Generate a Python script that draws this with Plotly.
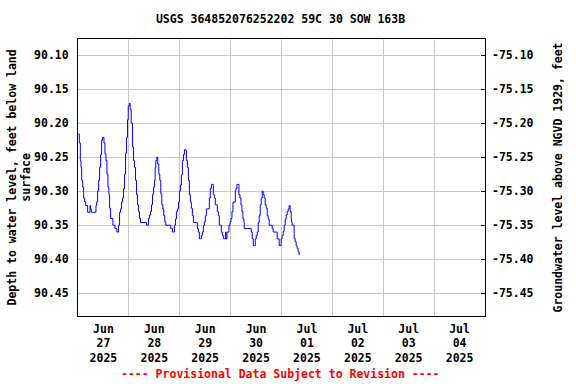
import pandas as pd
import plotly.graph_objects as go

# Hours after 2025-06-27 00:00 and depth to water (ft below land surface)
hours = [0, 0.31, 0.63, 1.10, 1.41, 1.73, 2.20, 2.67, 3.14, 3.61, 4.55, 5.33, 5.65, 5.96, 6.27, 7.37,
         8.47, 8.78, 9.25, 9.73, 10.20, 10.67, 11.14, 11.61, 11.76, 12.24, 12.71, 13.18, 13.65, 14.12,
         14.59, 14.90, 15.37, 16.47, 16.94, 17.41, 18.35, 18.67, 19.14, 19.61, 20.08, 20.55, 21.02,
         21.49, 21.96, 22.43, 22.90, 23.37, 23.69, 24.16, 24.63, 25.10, 25.73, 26.20, 26.67, 27.14,
         27.61, 28.08, 28.55, 29.02, 29.49, 32.31, 32.78, 33.25, 33.73, 34.20, 34.67, 35.14, 35.61,
         36.08, 36.39, 36.71, 37.18, 37.65, 38.12, 38.59, 39.06, 39.53, 40.00, 40.47, 40.94, 41.41,
         43.76, 44.55, 45.02, 45.49, 45.96, 46.43, 46.90, 47.37, 47.84, 48.31, 48.78, 49.25, 49.73,
         50.20, 50.67, 51.14, 51.61, 52.08, 52.55, 53.02, 53.49, 53.96, 54.43, 56.31, 56.78, 57.25,
         57.73, 58.20, 58.67, 59.14, 59.61, 60.08, 60.55, 61.96, 62.43, 62.90, 63.37, 63.84, 64.31,
         64.78, 65.73, 66.20, 66.67, 67.14, 67.61, 68.08, 68.55, 69.65, 69.80, 70.27, 70.75, 71.22,
         71.69, 72.16, 72.63, 73.10, 74.20, 74.51, 74.98, 75.45, 75.92, 76.39, 76.86, 77.33, 77.80,
         78.27, 78.43, 81.73, 82.20, 82.67, 83.14, 83.61, 84.08, 84.55, 85.02, 85.49, 85.96, 86.43,
         86.90, 87.37, 87.84, 88.31, 88.78, 89.25, 89.73, 90.20, 91.61, 92.08, 93.96, 94.43, 94.90,
         95.37, 95.84, 96.31, 96.78, 97.25, 97.73, 98.20, 98.67, 99.14, 99.61, 100.08, 100.55, 100.71,
         101.02, 101.49, 101.96, 102.43, 102.90, 103.37, 103.84, 104.31]
depth = [90.216, 90.216, 90.229, 90.255, 90.265, 90.284, 90.294, 90.310, 90.316, 90.321, 90.331, 90.331,
         90.321, 90.326, 90.331, 90.331, 90.321, 90.316, 90.300, 90.284, 90.265, 90.246, 90.225, 90.221,
         90.221, 90.229, 90.245, 90.255, 90.275, 90.294, 90.305, 90.325, 90.340, 90.350, 90.350, 90.355,
         90.360, 90.360, 90.350, 90.331, 90.326, 90.316, 90.310, 90.296, 90.275, 90.244, 90.221, 90.195,
         90.175, 90.171, 90.180, 90.200, 90.235, 90.255, 90.265, 90.284, 90.305, 90.320, 90.330, 90.340,
         90.346, 90.350, 90.350, 90.340, 90.335, 90.330, 90.320, 90.305, 90.294, 90.284, 90.265, 90.255,
         90.250, 90.260, 90.275, 90.284, 90.304, 90.320, 90.326, 90.336, 90.345, 90.350, 90.355, 90.360,
         90.360, 90.350, 90.341, 90.330, 90.326, 90.316, 90.300, 90.291, 90.276, 90.255, 90.246, 90.239,
         90.240, 90.255, 90.265, 90.284, 90.305, 90.316, 90.325, 90.336, 90.346, 90.355, 90.360, 90.370,
         90.370, 90.365, 90.360, 90.350, 90.345, 90.336, 90.326, 90.310, 90.296, 90.290, 90.290, 90.305,
         90.310, 90.320, 90.330, 90.336, 90.350, 90.350, 90.360, 90.365, 90.370, 90.360, 90.370, 90.360,
         90.360, 90.350, 90.345, 90.340, 90.330, 90.316, 90.300, 90.296, 90.290, 90.290, 90.305, 90.310,
         90.320, 90.330, 90.341, 90.346, 90.355, 90.360, 90.370, 90.380, 90.380, 90.370, 90.365, 90.360,
         90.346, 90.336, 90.320, 90.310, 90.300, 90.305, 90.310, 90.320, 90.325, 90.336, 90.341, 90.350,
         90.355, 90.360, 90.370, 90.370, 90.380, 90.380, 90.370, 90.365, 90.359, 90.350, 90.341, 90.335,
         90.330, 90.326, 90.321, 90.330, 90.340, 90.345, 90.350, 90.350, 90.369, 90.374, 90.380, 90.384,
         90.389, 90.394, 90.400, 90.400]

start = pd.Timestamp("2025-06-27 00:00")
times = [start + pd.Timedelta(hours=h) for h in hours]
elevation = [round(15.0 - d, 3) for d in depth]

day_lines = pd.date_range("2025-06-27", periods=9, freq="D")
day_noons = pd.date_range("2025-06-27 12:00", periods=8, freq="D")
day_labels = [f"{d.strftime('%b')}<br>{d.strftime('%d')}<br>{d.strftime('%Y')}" for d in day_noons]

left_ticks = [90.10, 90.15, 90.20, 90.25, 90.30, 90.35, 90.40, 90.45]
right_ticks = [-75.10, -75.15, -75.20, -75.25, -75.30, -75.35, -75.40, -75.45]

F = dict(family="DejaVu Sans Mono", size=11.5, color="black", weight="bold")

fig = go.Figure()
fig.add_trace(go.Scatter(x=times, y=depth, mode="lines", line=dict(color="#0000ff", width=1, shape="hv"),
                         xaxis="x", yaxis="y", showlegend=False))
fig.add_trace(go.Scatter(x=times, y=elevation, mode="lines", line=dict(color="rgba(0,0,0,0)", width=0),
                         xaxis="x2", yaxis="y2", showlegend=False, hoverinfo="skip"))

xr = ["2025-06-27 00:00", "2025-07-05 00:00"]
fig.update_layout(
    width=576, height=384,
    margin=dict(l=78, r=91, t=39, b=68, autoexpand=False),
    paper_bgcolor="white", plot_bgcolor="white",
    font=F,
    title=dict(text="USGS 364852076252202 59C 30 SOW 163B", x=0.487, xanchor="center",
               y=1 - 19 / 384, yanchor="middle", font=F, automargin=False),
    xaxis=dict(range=xr, type="date", tickvals=list(day_lines), showticklabels=False,
               showgrid=True, gridcolor="#c8c8c8", gridwidth=1, ticks="", zeroline=False,
               showline=True, linecolor="black", linewidth=1, mirror=True, automargin=False),
    xaxis2=dict(range=xr, type="date", overlaying="x", side="bottom", tickvals=list(day_noons),
                ticktext=day_labels, showgrid=False, ticks="", tickfont=F, ticklabelstandoff=4,
                showline=False, zeroline=False, automargin=False),
    yaxis=dict(range=[90.4834, 90.0763], tickvals=left_ticks,
               ticktext=[f"{v:.2f}" for v in left_ticks], showgrid=True, gridcolor="#c8c8c8",
               ticks="", zeroline=False, showline=True, linecolor="black", linewidth=1, mirror=True,
               tickfont=F, ticklabelstandoff=6, automargin=False),
    yaxis2=dict(range=[-75.4834, -75.0763], overlaying="y", side="right", anchor="x", tickvals=right_ticks,
                ticktext=[f"{v:.2f}" for v in right_ticks], showgrid=False, ticks="inside",
                ticklen=4, tickcolor="black", zeroline=False, tickfont=F, ticklabelstandoff=6,
                showline=False, automargin=False),
    annotations=[
        dict(text="Depth to water level, feet below land<br>surface", textangle=-90,
             xref="paper", yref="paper", x=(19 - 78) / 407, y=0.5, xanchor="center", yanchor="middle",
             showarrow=False, font=F),
        dict(text="Groundwater level above NGVD 1929, feet", textangle=-90,
             xref="paper", yref="paper", x=(557 - 78) / 407, y=0.5, xanchor="center", yanchor="middle",
             showarrow=False, font=F),
        dict(text="---- Provisional Data Subject to Revision ----", xref="paper", yref="paper",
             x=(280 - 78) / 407, y=(316 - 374) / 277, xanchor="center", yanchor="middle",
             showarrow=False, font=dict(family="DejaVu Sans Mono", size=11.5, color="red", weight="bold")),
    ],
)

fig.write_html("out.html", config={"displayModeBar": False},
               post_script="document.body.style.margin='0';")
